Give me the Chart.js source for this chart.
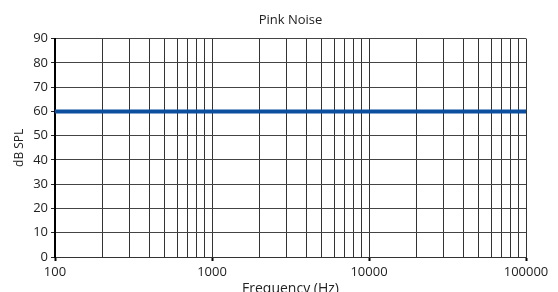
<!DOCTYPE html>
<html>
<head>
<meta charset="utf-8">
<script src="https://cdn.jsdelivr.net/npm/chart.js@4/dist/chart.umd.min.js"></script>
<style>
  html, body { margin: 0; padding: 0; background: #fff; }
</style>
</head>
<body>
<canvas id="noiseChart" width="558" height="292"></canvas>
<script>
// data
const frequencies = [100, 100000];
const splValues = [60, 60];
const gridFrequencies = [
  100, 200, 300, 400, 500, 600, 700, 800, 900,
  1000, 2000, 3000, 4000, 5000, 6000, 7000, 8000, 9000,
  10000, 20000, 30000, 40000, 50000, 60000, 70000, 80000, 90000,
  100000
];
const labelledFrequencies = [100, 1000, 10000, 100000];
const yTicks = [0, 10, 20, 30, 40, 50, 60, 70, 80, 90];

const fontFamily = '"Open Sans", "Liberation Sans", sans-serif';
const isLabelled = (v) => labelledFrequencies.includes(v);

const ctx = document.getElementById('noiseChart').getContext('2d');

new Chart(ctx, {
  type: 'line',
  data: {
    datasets: [{
      label: 'Pink Noise',
      data: frequencies.map((f, i) => ({ x: f, y: splValues[i] })),
      borderColor: '#0b4f9e',
      borderWidth: 4,
      pointRadius: 0,
      tension: 0
    }]
  },
  options: {
    responsive: false,
    animation: false,
    layout: {
      padding: { left: 0, right: 32, top: 0, bottom: 0 }
    },
    scales: {
      x: {
        type: 'logarithmic',
        min: 100,
        max: 100000,
        afterBuildTicks: (scale) => {
          scale.ticks = gridFrequencies.map(v => ({ value: v, major: isLabelled(v) }));
        },
        afterFit: (scale) => { scale.height = 35; },
        ticks: {
          autoSkip: false,
          maxRotation: 0,
          padding: 3,
          color: '#222',
          font: { family: fontFamily, size: 13 },
          callback: (value) => isLabelled(value) ? String(value) : ''
        },
        grid: {
          color: '#333',
          lineWidth: 1,
          tickLength: 4,
          tickColor: (c) => (c.tick && isLabelled(c.tick.value)) ? '#000' : 'rgba(0,0,0,0)',
          tickWidth: 2
        },
        border: { color: '#333', width: 1 },
        title: {
          display: true,
          text: 'Frequency (Hz)',
          color: '#222',
          font: { family: fontFamily, size: 14 },
          padding: { top: 0, bottom: -5 }
        }
      },
      y: {
        min: 0,
        max: 90,
        afterBuildTicks: (scale) => {
          scale.ticks = yTicks.map(v => ({ value: v }));
        },
        afterFit: (scale) => { scale.width = 55; },
        ticks: {
          padding: 3,
          color: '#222',
          font: { family: fontFamily, size: 13 }
        },
        grid: {
          color: '#444',
          lineWidth: 1,
          tickLength: 4,
          tickColor: '#222'
        },
        border: { color: '#000', width: 2 },
        title: {
          display: true,
          text: 'dB SPL',
          color: '#222',
          font: { family: fontFamily, size: 12 },
          padding: { top: 12, bottom: 0 }
        }
      }
    },
    plugins: {
      legend: { display: false },
      tooltip: { enabled: false },
      title: {
        display: true,
        fullSize: false,
        text: 'Pink Noise',
        color: '#222',
        font: { family: fontFamily, size: 13, weight: 'normal' },
        padding: { top: 12, bottom: 11 }
      }
    }
  }
});
</script>
</body>
</html>
